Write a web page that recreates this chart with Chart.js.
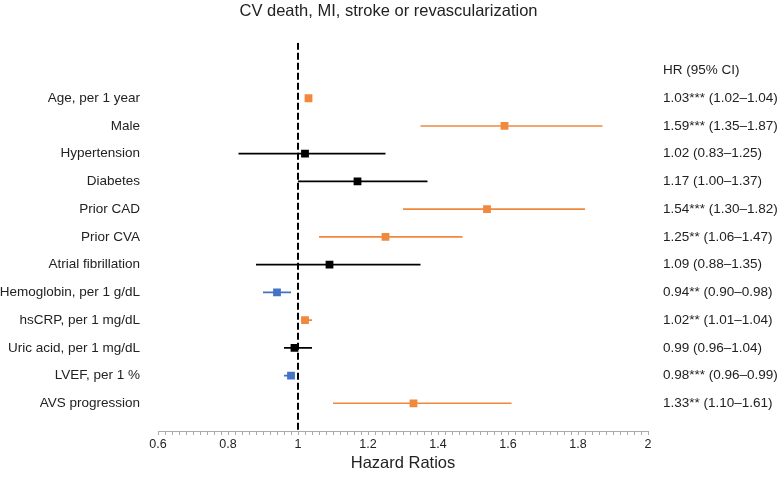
<!DOCTYPE html>
<html>
<head>
<meta charset="utf-8">
<script src="https://cdn.jsdelivr.net/npm/chart.js@4.4.1/dist/chart.umd.min.js"></script>
<style>
  html, body { margin: 0; padding: 0; background: #fff; }
  #wrap { width: 777px; height: 477px; }
</style>
</head>
<body>
<div id="wrap"><canvas id="forest"></canvas></div>
<script>
// forest plot data
const variables = ['Age, per 1 year', 'Male', 'Hypertension', 'Diabetes', 'Prior CAD', 'Prior CVA',
  'Atrial fibrillation', 'Hemoglobin, per 1 g/dL', 'hsCRP, per 1 mg/dL', 'Uric acid, per 1 mg/dL',
  'LVEF, per 1 %', 'AVS progression'];
const hazard = [1.03, 1.59, 1.02, 1.17, 1.54, 1.25, 1.09, 0.94, 1.02, 0.99, 0.98, 1.33];
const ciLow  = [1.02, 1.35, 0.83, 1.00, 1.30, 1.06, 0.88, 0.90, 1.01, 0.96, 0.96, 1.10];
const ciHigh = [1.04, 1.87, 1.25, 1.37, 1.82, 1.47, 1.35, 0.98, 1.04, 1.04, 0.99, 1.61];
const stars  = ['***', '***', '', '', '***', '**', '', '**', '**', '', '***', '**'];
const xTicks = [0.6, 0.8, 1, 1.2, 1.4, 1.6, 1.8, 2];

const ORANGE = '#f0883e', BLUE = '#4472c4', BLACK = '#000';
const colorOf = i => ciLow[i] > 1 ? ORANGE : (ciHigh[i] < 1 ? BLUE : BLACK);
const hrText = i => `${hazard[i].toFixed(2)}${stars[i]} (${ciLow[i].toFixed(2)}–${ciHigh[i].toFixed(2)})`;

const FONT = "'Liberation Sans', Arial, sans-serif";

const datasets = [];
// reference line at HR = 1
datasets.push({
  type: 'scatter', showLine: true, data: [{x: 1, y: -1}, {x: 1, y: 13}],
  borderColor: '#000', borderWidth: 2, borderDash: [7, 3], pointRadius: 0, order: 3
});
// confidence intervals
variables.forEach((v, i) => {
  datasets.push({
    type: 'scatter', showLine: true, data: [{x: ciLow[i], y: i + 1}, {x: ciHigh[i], y: i + 1}],
    borderColor: colorOf(i), borderWidth: 1.7, pointRadius: 0, order: 2
  });
});
// point estimates
datasets.push({
  type: 'scatter', data: hazard.map((h, i) => ({x: h, y: i + 1})),
  pointStyle: 'rect', pointRadius: 5.5, pointHoverRadius: 5.5, borderWidth: 0,
  pointBackgroundColor: hazard.map((h, i) => colorOf(i)), order: 1
});

new Chart(document.getElementById('forest'), {
  type: 'scatter',
  data: { datasets },
  options: {
    responsive: true, maintainAspectRatio: false, animation: false,
    layout: { padding: 0 },
    plugins: {
      legend: { display: false }, tooltip: { enabled: false },
      title: {
        display: true, text: 'CV death, MI, stroke or revascularization', color: '#222',
        font: { family: FONT, size: 16.5, weight: 'normal' }, padding: { top: 2, bottom: 21 }
      }
    },
    scales: {
      x: {
        type: 'linear', min: 0.6, max: 2,
        afterFit: s => { s.height = 46; },
        grid: { drawOnChartArea: false, color: '#aaa', tickLength: 4 },
        border: { color: '#aaa', width: 1 },
        ticks: {
          stepSize: 0.02, autoSkip: false, maxTicksLimit: 200, maxRotation: 0, padding: 2,
          color: '#222', font: { family: FONT, size: 12.5 },
          callback: v => {
            const t = xTicks.find(k => Math.abs(k - v) < 1e-6);
            return t === undefined ? '' : String(t);
          }
        },
        title: { display: true, text: 'Hazard Ratios', color: '#222', font: { family: FONT, size: 16.5 }, padding: { top: 5 } }
      },
      y: {
        type: 'linear', position: 'left', min: -1, max: 13, reverse: true,
        afterFit: s => { s.width = 158; },
        grid: { display: false, drawTicks: false }, border: { display: false },
        ticks: {
          stepSize: 1, autoSkip: false, padding: 18, color: '#222', font: { family: FONT, size: 13.5 },
          callback: v => (v >= 1 && v <= variables.length) ? variables[v - 1] : ''
        }
      },
      y2: {
        type: 'linear', position: 'right', min: -1, max: 13, reverse: true,
        afterFit: s => { s.width = 129; },
        grid: { display: false, drawTicks: false }, border: { display: false },
        ticks: {
          stepSize: 1, autoSkip: false, padding: 15, color: '#222', font: { family: FONT, size: 13.5 },
          callback: v => v === 0 ? 'HR (95% CI)' : ((v >= 1 && v <= variables.length) ? hrText(v - 1) : '')
        }
      }
    }
  }
});
</script>
</body>
</html>
